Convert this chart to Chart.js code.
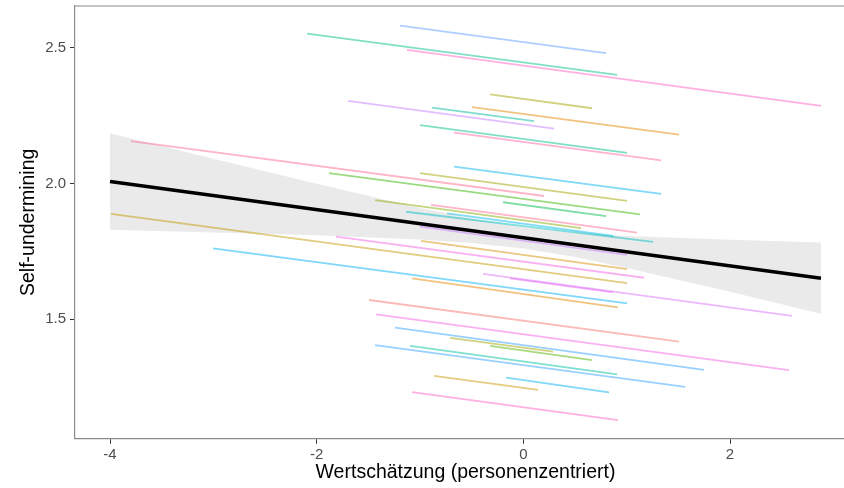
<!DOCTYPE html>
<html><head><meta charset="utf-8">
<script src="https://cdn.jsdelivr.net/npm/chart.js@4"></script>
<style>
html,body{margin:0;padding:0;background:#fff;overflow:hidden;width:844px;height:488px}
#wrap{width:844px;height:488px;overflow:hidden;position:relative}
canvas{display:block}
</style></head>
<body><div id="wrap"><canvas id="c" width="856" height="488"></canvas></div>
<script>
// tick labels
const xTicks = [-4, -2, 0, 2];
const yTicks = [1.5, 2.0, 2.5];

// per-person regression segments (start / end)
const segX1 = [-1.193,-2.093,-1.126,-0.322,-0.496,-1.697,-0.884,-1.000,-0.671,-0.671,-3.797,-1.880,-1.000,-0.196,-1.435,-0.893,-1.135,-0.738,-1.000,-3.990,-3.003,-1.813,-0.990,-0.390,-0.129,-1.077,-1.493,-1.426,-1.242,-0.709,-0.322,-1.096,-1.435,-0.167,-0.864,-1.077];
const segY1 = [2.581,2.552,2.492,2.328,2.281,2.304,2.279,2.215,2.187,2.062,2.156,2.038,2.038,1.931,1.939,1.921,1.896,1.890,1.841,1.888,1.761,1.804,1.789,1.667,1.651,1.651,1.571,1.518,1.469,1.432,1.402,1.402,1.405,1.285,1.292,1.232];
const segX2 = [0.800,0.907,2.881,0.665,1.507,0.297,0.104,1.004,1.333,1.333,0.200,1.129,1.004,0.800,0.558,1.100,1.255,0.868,1.004,1.004,1.004,1.168,1.004,2.600,0.868,0.916,1.507,2.571,1.749,0.287,0.665,0.907,1.565,0.829,0.142,0.916];
const segY2 = [2.480,2.400,2.286,2.277,2.180,2.202,2.230,2.113,2.085,1.962,1.954,1.886,1.936,1.880,1.836,1.819,1.785,1.807,1.737,1.633,1.559,1.653,1.685,1.513,1.599,1.544,1.418,1.313,1.314,1.381,1.350,1.297,1.251,1.231,1.240,1.129];
const segColors = ['#619CFF','#00C08B','#FF61C3','#A3A500','#E58700','#C77CFF','#00BA9E','#00C08B','#FF67A4','#00B4F0','#FF6C91','#39B600','#A3A500','#00BB4E','#85AD00','#FF6C91','#00BFC4','#00B8E7','#C77CFF','#C49A00','#00B0F6','#F564E3','#D89000','#DC71FA','#E76BF3','#E58700','#F8766D','#F564E3','#35A2FF','#A3A500','#53B400','#00C1A3','#35A2FF','#00B4F0','#C99800','#FF61C3'];

// overall fit and confidence band
const fitX = [-4, 2.88];
const fitY = [2.007, 1.651];
const bandX = [-4, -3, -2, -1, -0.5, 0, 0.5, 1, 2, 2.88];
const bandUpper = [2.185, 2.091, 1.999, 1.910, 1.871, 1.839, 1.819, 1.807, 1.793, 1.783];
const bandLower = [1.830, 1.820, 1.809, 1.794, 1.781, 1.761, 1.729, 1.689, 1.601, 1.520];

function hexA(h, a) {
  const r = parseInt(h.slice(1,3),16), g = parseInt(h.slice(3,5),16), b = parseInt(h.slice(5,7),16);
  return `rgba(${r},${g},${b},${a})`;
}

Chart.defaults.font.family = "'Liberation Sans', Arial, sans-serif";

const datasets = [];
datasets.push({
  label: 'fit', data: fitX.map((x, i) => ({x, y: fitY[i]})),
  borderColor: '#000', borderWidth: 3.5, pointRadius: 0, showLine: true, fill: false, order: 0
});
for (let i = 0; i < segX1.length; i++) {
  datasets.push({
    label: 'g' + i,
    data: [{x: segX1[i], y: segY1[i]}, {x: segX2[i], y: segY2[i]}],
    borderColor: hexA(segColors[i], 0.5), borderWidth: 1.8, pointRadius: 0,
    showLine: true, fill: false, order: 1
  });
}
datasets.push({
  label: 'upper', data: bandX.map((x, i) => ({x, y: bandUpper[i]})),
  borderColor: 'rgba(0,0,0,0)', borderWidth: 0, pointRadius: 0, showLine: true,
  fill: '+1', backgroundColor: 'rgba(170,170,170,0.25)', order: 2
});
datasets.push({
  label: 'lower', data: bandX.map((x, i) => ({x, y: bandLower[i]})),
  borderColor: 'rgba(0,0,0,0)', borderWidth: 0, pointRadius: 0, showLine: true,
  fill: false, order: 3
});

const topBorder = {
  id: 'topBorder',
  afterDraw(c) {
    const {ctx, chartArea: a} = c;
    ctx.save();
    ctx.strokeStyle = '#8a8a8a'; ctx.lineWidth = 1.2;
    ctx.beginPath(); ctx.moveTo(a.left, a.top); ctx.lineTo(a.right, a.top); ctx.stroke();
    ctx.restore();
  }
};

new Chart(document.getElementById('c'), {
  type: 'scatter',
  data: {datasets},
  plugins: [topBorder],
  options: {
    responsive: false, animation: false,
    layout: {padding: {top: 6, left: 0, right: 0, bottom: 0}},
    plugins: {legend: {display: false}, tooltip: {enabled: false}},
    scales: {
      x: {
        type: 'linear', min: -4.339, max: 3.219,
        afterBuildTicks: s => { s.ticks = xTicks.map(v => ({value: v})); },
        ticks: {font: {size: 15}, color: '#4d4d4d', padding: 2, maxRotation: 0, callback: v => String(v)},
        grid: {display: true, drawOnChartArea: false, tickLength: 5, tickColor: '#333', tickWidth: 1},
        border: {color: '#8a8a8a', width: 1.2},
        title: {display: true, text: 'Wertschätzung (personenzentriert)', font: {size: 19.5}, color: '#000', padding: {top: 0, bottom: 4}},
        afterFit: s => { s.height = 49.3; s.paddingLeft = 0; s.paddingRight = 0; }
      },
      y: {
        type: 'linear', min: 1.0604, max: 2.6535,
        afterBuildTicks: s => { s.ticks = yTicks.map(v => ({value: v})); },
        ticks: {font: {size: 15}, color: '#4d4d4d', padding: 4, callback: v => Number(v).toFixed(1)},
        grid: {display: true, drawOnChartArea: false, tickLength: 5, tickColor: '#333', tickWidth: 1},
        border: {color: '#8a8a8a', width: 1.2},
        title: {display: true, text: 'Self-undermining', font: {size: 19.5}, color: '#000', padding: {top: 17, bottom: 0}},
        afterFit: s => { s.width = 75; s.paddingTop = 0; s.paddingBottom = 0; }
      }
    }
  }
});
</script>
</body></html>
